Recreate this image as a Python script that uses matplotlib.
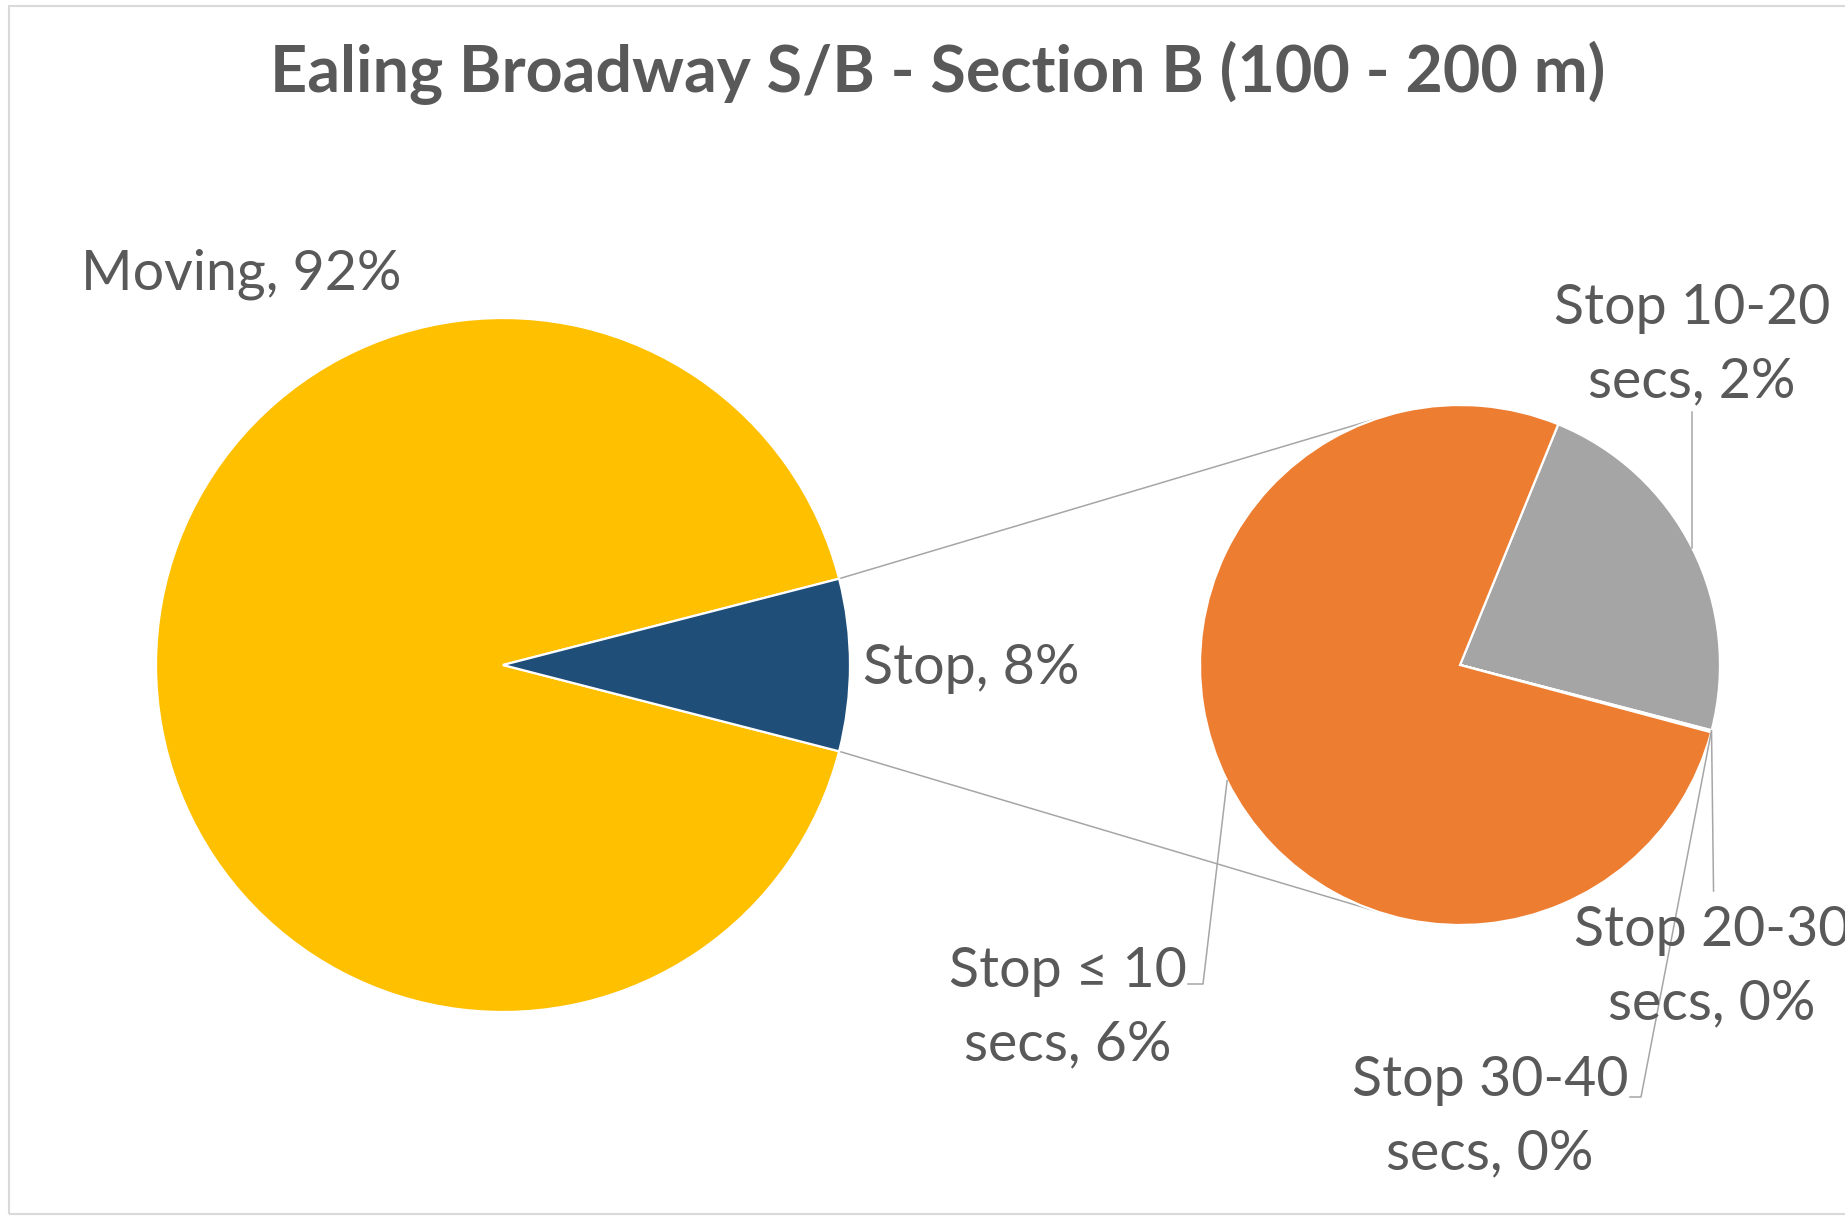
import matplotlib
matplotlib.use("Agg")
import matplotlib.pyplot as plt
import numpy as np
from matplotlib.patches import Rectangle

# ---------------- data ----------------
title = "Ealing Broadway S/B - Section B (100 - 200 m)"

main_names = ["Moving", "Stop"]
main_values = [92.0, 8.0]
main_colors = ["#FFC000", "#1F4E79"]

stop_names = ["Stop 10-20 secs", "Stop 20-30 secs", "Stop 30-40 secs", "Stop \u2264 10 secs"]
stop_values = [1.83, 0.005, 0.005, 6.16]
stop_colors = ["#A5A5A5", "#FFC000", "#5B9BD5", "#ED7D31"]

# ---------------- layout ----------------
W, H = 1845, 1218
TXT = "#595959"
LINE = "#A6A6A6"
FONT = ["Lato", "DejaVu Sans"]
plt.rcParams["font.family"] = FONT


def P(x, y):
    """pixel (y down) -> data (y up)"""
    return (x, H - y)


fig = plt.figure(figsize=(W / 100, H / 100), dpi=100)
ax = fig.add_axes([0, 0, 1, 1])

# chart border
fig.patches.append(Rectangle((9 / W, 4 / H), 1.2, 1 - 10 / H, transform=fig.transFigure,
                             fill=False, edgecolor="#D9D9D9", linewidth=1.5))

c1, r1 = P(503, 665), 347
c2, r2 = P(1460, 665), 260

stop_frac = main_values[1] / sum(main_values)
w1, _ = ax.pie(main_values, colors=main_colors, center=c1, radius=r1,
               startangle=stop_frac * 180, counterclock=True,
               wedgeprops=dict(edgecolor="white", linewidth=1.6), frame=True)

w2, _ = ax.pie(stop_values, colors=stop_colors, center=c2, radius=r2,
               startangle=67.8, counterclock=False,
               wedgeprops=dict(edgecolor="white", linewidth=1.6), frame=True)
ax.set_xlim(0, W)
ax.set_ylim(0, H)
ax.set_aspect("equal")
ax.axis("off")


def arc_pt(c, r, ang):
    a = np.deg2rad(ang)
    return (c[0] + r * np.cos(a), c[1] + r * np.sin(a))


# connector lines between pies
half = stop_frac * 180
for s in (1, -1):
    pA = arc_pt(c1, r1, s * half)
    pB = arc_pt(c2, r2, s * 108.5)
    ax.plot([pA[0], pB[0]], [pA[1], pB[1]], color=LINE, lw=1.1, zorder=0.5)

# ---------------- labels ----------------
fs = 40
ax.text(*P(241, 274), f"{main_names[0]}, {main_values[0]:.0f}%", fontsize=fs, color=TXT,
        ha="center", va="center")
ax.text(*P(971, 668), f"{main_names[1]}, {main_values[1]:.0f}%", fontsize=fs, color=TXT,
        ha="center", va="center")

ax.text(*P(938, 73), title, fontsize=46.5, fontweight="bold", color=TXT,
        ha="center", va="center")


def lbl(name, v):
    head, tail = name.rsplit(" ", 1)
    return f"{head}\n{tail}, {v:.0f}%"


label_pos = [P(1692, 345), P(1712, 967), P(1490, 1117), P(1068, 1008)]
for name, v, pos in zip(stop_names, stop_values, label_pos):
    ax.text(pos[0], pos[1], lbl(name, v), fontsize=fs, color=TXT, ha="center",
            va="center", linespacing=1.55, family=FONT)


def mid_anchor(w):
    return arc_pt(c2, r2, (w.theta1 + w.theta2) / 2)


# leader lines
a = mid_anchor(w2[0])
ax.plot([a[0], a[0]], [a[1], P(0, 412)[1]], color=LINE, lw=1.1)
a = mid_anchor(w2[1])
ax.plot([a[0], a[0] + 2], [a[1], P(0, 891)[1]], color=LINE, lw=1.1)
a = mid_anchor(w2[2])
b = P(1641, 1097)
ax.plot([a[0], b[0], b[0] - 11], [a[1], b[1], b[1]], color=LINE, lw=1.1)
a = mid_anchor(w2[3])
b = P(1203, 984)
ax.plot([a[0], b[0], b[0] - 15], [a[1], b[1], b[1]], color=LINE, lw=1.1)

fig.savefig("out.png", dpi=100, facecolor="white")
